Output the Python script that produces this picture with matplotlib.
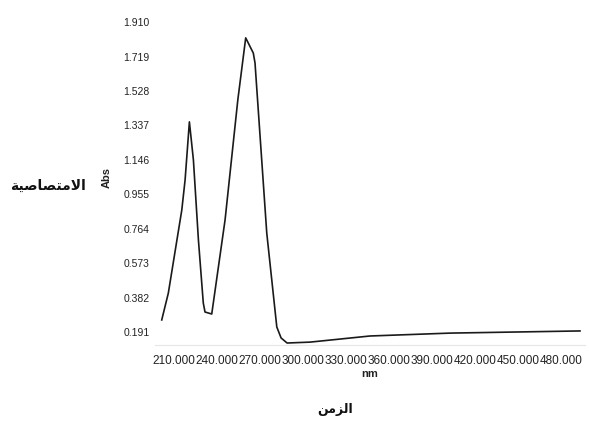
import matplotlib
matplotlib.use("Agg")
import matplotlib.pyplot as plt

# ---- data ----
wavelength = [201.4, 206.0, 215.4, 217.7, 220.7, 223.5, 227.0, 230.4, 231.6,
              236.3, 245.6, 254.5, 260.0, 265.3, 266.5, 274.7, 281.7, 284.7,
              288.9, 304.9, 346.8, 402.6, 493.3]
absorbance = [0.258, 0.407, 0.868, 1.035, 1.357, 1.146, 0.702, 0.352, 0.302,
              0.291, 0.813, 1.479, 1.823, 1.739, 1.684, 0.740, 0.219, 0.158,
              0.130, 0.135, 0.169, 0.185, 0.197]
x_ticks = [210, 240, 270, 300, 330, 360, 390, 420, 450, 480]
x_tick_labels = ["210.000", "240.000", "270.000", "300.000", "330.000",
                 "360.000", "390.000", "420.000", "450.000", "480.000"]
y_ticks = [0.191, 0.382, 0.573, 0.764, 0.955, 1.146, 1.337, 1.528, 1.719, 1.910]
y_tick_labels = ["0.191", "0.382", "0.573", "0.764", "0.955", "1.146",
                 "1.337", "1.528", "1.719", "1.910"]
ylabel_ar = "الامتصاصية"
xlabel_ar = "الزمن"

# ---- minimal Arabic shaping (matplotlib has no shaping engine) ----
FORMS = {  # isolated, final, initial, medial
    "ا": ("\uFE8D", "\uFE8E", None, None),
    "ل": ("\uFEDD", "\uFEDE", "\uFEDF", "\uFEE0"),
    "م": ("\uFEE1", "\uFEE2", "\uFEE3", "\uFEE4"),
    "ت": ("\uFE95", "\uFE96", "\uFE97", "\uFE98"),
    "ص": ("\uFEB9", "\uFEBA", "\uFEBB", "\uFEBC"),
    "ي": ("\uFEF1", "\uFEF2", "\uFEF3", "\uFEF4"),
    "ة": ("\uFE93", "\uFE94", None, None),
    "ز": ("\uFEAF", "\uFEB0", None, None),
    "ن": ("\uFEE5", "\uFEE6", "\uFEE7", "\uFEE8"),
}


def joins_forward(ch):
    return ch in FORMS and FORMS[ch][2] is not None


def shape(text):
    out = []
    i = 0
    n = len(text)
    while i < n:
        ch = text[i]
        prev_joins = i > 0 and joins_forward(text[i - 1])
        if ch == "ل" and i + 1 < n and text[i + 1] == "ا":
            out.append("\uFEFC" if prev_joins else "\uFEFB")
            i += 2
            continue
        iso, fin, ini, med = FORMS.get(ch, (ch, ch, None, None))
        next_exists = i + 1 < n and text[i + 1] in FORMS
        can_fwd = ini is not None and next_exists
        if prev_joins and can_fwd:
            g = med
        elif prev_joins:
            g = fin
        elif can_fwd:
            g = ini
        else:
            g = iso
        out.append(g)
        i += 1
    return "".join(reversed(out))


plt.rcParams["font.family"] = ["Liberation Sans", "DejaVu Sans"]

fig = plt.figure(figsize=(5.89, 4.30), dpi=100)
W, H = 589, 430
left, right, top, bottom = 155, 585, 15, 345
ax = fig.add_axes([left / W, 1 - bottom / H, (right - left) / W, (bottom - top) / H])

ax.plot(wavelength, absorbance, color="#1a1a1a", lw=1.2)

ax.set_xlim(196.7, 496.8)
ax.set_ylim(0.119, 1.950)
ax.set_xticks(x_ticks)
ax.set_xticklabels(x_tick_labels, fontsize=8.5, color="#222222")
ax.set_yticks(y_ticks)
ax.set_yticklabels(y_tick_labels, fontsize=7.5, color="#222222")
ax.tick_params(axis="both", length=0)
ax.tick_params(axis="x", pad=7)
ax.tick_params(axis="y", pad=4)
for s in ["top", "right", "left"]:
    ax.spines[s].set_visible(False)
ax.spines["bottom"].set_color("#e6e6e6")
ax.spines["bottom"].set_linewidth(0.8)

fig.text(370 / W, 1 - 374 / H, "nm", fontsize=8, fontweight="bold",
         ha="center", va="center", color="#222222")
fig.text(107 / W, 1 - 178 / H, "Abs", fontsize=8, fontweight="bold",
         rotation=90, ha="center", va="center", color="#222222")
fig.text(48 / W, 1 - 186 / H, shape(ylabel_ar), fontsize=10, fontweight="bold",
         family=["DejaVu Sans"], ha="center", va="center", color="#111111")
fig.text(335 / W, 1 - 410 / H, shape(xlabel_ar), fontsize=9, fontweight="bold",
         family=["DejaVu Sans"], ha="center", va="center", color="#111111")

fig.savefig("out.png", dpi=100, facecolor="white")
